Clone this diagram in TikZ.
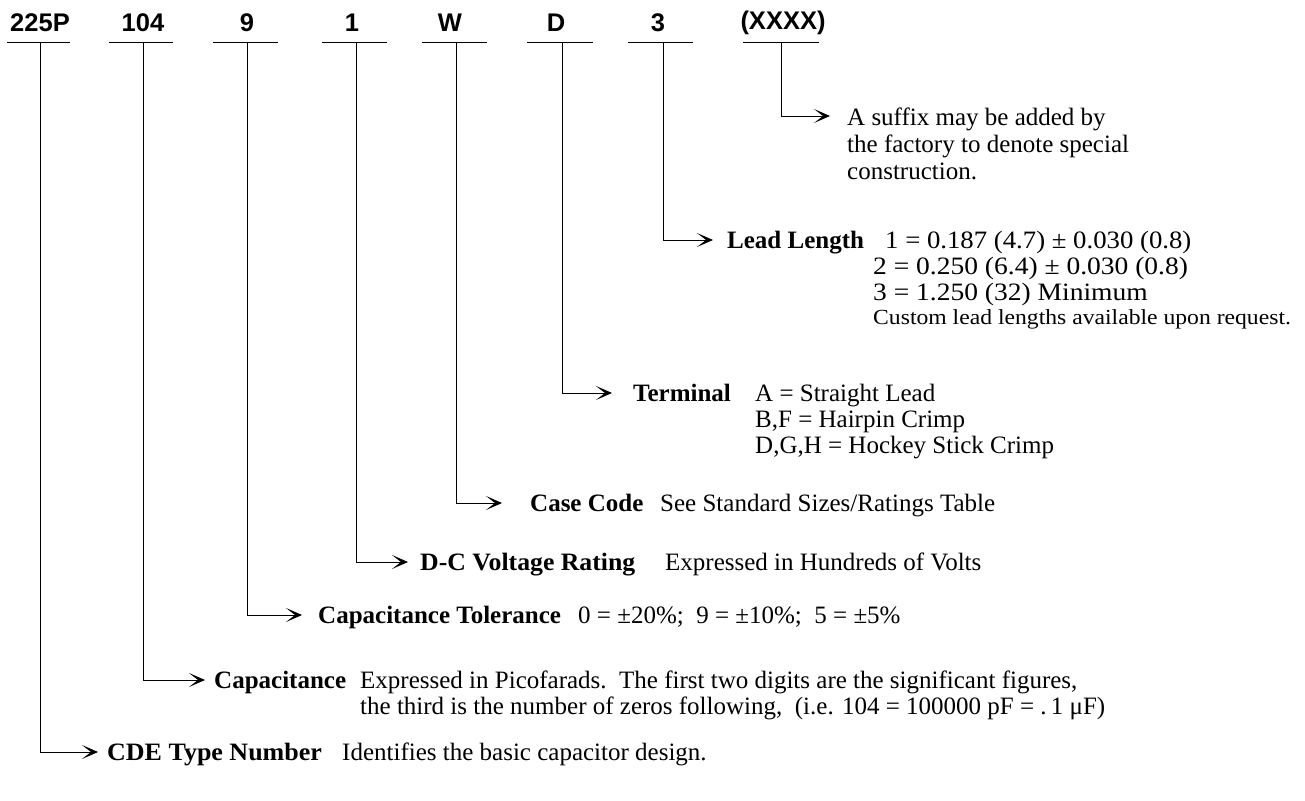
\documentclass[tikz,border=0pt]{standalone}
\usepackage{fontspec}
\usepackage{graphicx}
\setmainfont{Liberation Serif}
\newfontfamily\hdfont{Liberation Sans}
\usetikzlibrary{arrows.meta}
\newcommand{\xs}[2]{\scalebox{#1}[1]{#2}}
\begin{document}
\begin{tikzpicture}[x=1pt,y=-1pt,
  code/.style={font=\hdfont\bfseries\fontsize{25.5}{28}\selectfont, inner sep=0pt},
  ttl/.style={font=\bfseries\fontsize{25}{28}\selectfont, inner sep=0pt, anchor=base west},
  desc/.style={font=\fontsize{25}{28}\selectfont, inner sep=0pt, anchor=base west},
  small/.style={font=\fontsize{21.5}{24}\selectfont, inner sep=0pt, anchor=base west},
  uline/.style={line width=1pt},
  lead/.style={line width=1pt, -{Stealth[length=16pt,width=14pt,inset=9pt]}}]
\useasboundingbox (0,0) rectangle (1305,800);
% codes
\foreach \n/\x/\t in {c1/40/225P, c2/143/104, c3/247/9, c4/352/1, c5/450/W, c6/556/D, c7/658/3, c8/783/(XXXX)}{
  \node[code] (\n) at (\x,23) {\t};
}
% underlines and drop points
\foreach \n/\a/\b/\v in {u1/7/70/40, u2/109/173/143, u3/213/278/247, u4/322/387/356, u5/422/487/456, u6/527/593/562, u7/628/693/663, u8/743/819/781}{
  \coordinate (\n a) at (\a,43);
  \coordinate (\n b) at (\b,43);
  \coordinate (\n) at (\v,43);
  \draw[uline] (\n a) -- (\n b);
}
% row XXXX
\coordinate (t8) at (830,116);
\draw[lead] (u8) |- (t8);
\node[desc] (d8a) at (847,125) {A suffix may be added by};
\node[desc] (d8b) at (847,152) {the factory to denote special};
\node[desc] (d8c) at (847,179) {construction.};
% row lead length
\coordinate (t7) at (713,240);
\draw[lead] (u7) |- (t7);
\node[ttl] (n7) at (727,248) {Lead Length};
\node[desc] (d7a) at (885,248) {\xs{1.07}{1 = 0.187 (4.7) ± 0.030 (0.8)}};
\node[desc] (d7b) at (873,274) {\xs{1.1}{2 = 0.250 (6.4) ± 0.030 (0.8)}};
\node[desc] (d7c) at (873,300) {\xs{1.1}{3 = 1.250 (32) Minimum}};
\node[small] (d7d) at (873,324) {\xs{1.1}{Custom lead lengths available upon request.}};
% row terminal
\coordinate (t6) at (612,393);
\draw[lead] (u6) |- (t6);
\node[ttl] (n6) at (633,401) {Terminal};
\node[desc] (d6a) at (755,401) {A = Straight Lead};
\node[desc] (d6b) at (755,427) {B,F = Hairpin Crimp};
\node[desc] (d6c) at (755,453) {D,G,H = Hockey Stick Crimp};
% row case code
\coordinate (t5) at (502,503);
\draw[lead] (u5) |- (t5);
\node[ttl] (n5) at (530,511) {Case Code};
\node[desc] (d5) at (660,511) {See Standard Sizes/Ratings Table};
% row dc voltage
\coordinate (t4) at (408,562);
\draw[lead] (u4) |- (t4);
\node[ttl] (n4) at (420,570) {\xs{1.03}{D-C Voltage Rating}};
\node[desc] (d4) at (665,570) {Expressed in Hundreds of Volts};
% row tolerance
\coordinate (t3) at (302,615);
\draw[lead] (u3) |- (t3);
\node[ttl] (n3) at (318,623) {Capacitance Tolerance};
\node[desc] (d3) at (578,623) {0 = ±20\%;\ \ 9 = ±10\%;\ \ 5 = ±5\%};
% row capacitance
\coordinate (t2) at (205,680);
\draw[lead] (u2) |- (t2);
\node[ttl] (n2) at (214,688) {Capacitance};
\node[desc] (d2a) at (360,688) {Expressed in Picofarads.\ \ The first two digits are the significant figures,};
\node[desc] (d2b) at (360,714) {the third is the number of zeros following,\ \ (i.e. 104 = 100000 pF = .\,1 μF)};
% row CDE
\coordinate (t1) at (98,752);
\draw[lead] (u1) |- (t1);
\node[ttl] (n1) at (107,760) {\xs{1.04}{CDE Type Number}};
\node[desc] (d1) at (342,760) {Identifies the basic capacitor design.};
\end{tikzpicture}
\end{document}
